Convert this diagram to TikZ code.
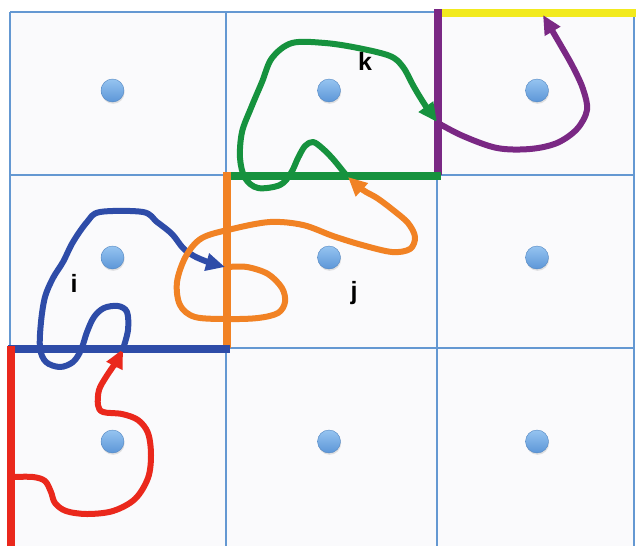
\documentclass[tikz,border=0pt]{standalone}
\usepackage{fontspec}
\setsansfont{Liberation Sans}
\usetikzlibrary{arrows.meta,shadows}
\definecolor{gridblue}{RGB}{100,152,210}
\definecolor{cellbg}{RGB}{250,250,252}
\definecolor{cred}{RGB}{234,40,28}
\definecolor{cblue}{RGB}{46,76,168}
\definecolor{corange}{RGB}{241,130,36}
\definecolor{cgreen}{RGB}{22,146,62}
\definecolor{cpurple}{RGB}{122,40,132}
\definecolor{cyellow}{RGB}{242,234,30}
\definecolor{dottop}{RGB}{150,196,240}
\definecolor{dotbot}{RGB}{92,150,216}
\begin{document}
\begin{tikzpicture}[x=1pt,y=-1pt,
  gridline/.style={draw=gridblue,line width=1.8pt},
  edgeline/.style={line width=8pt},
  curveline/.style={line width=6pt,line cap=round,line join=round,
    -{Triangle[length=19pt,width=17pt]}},
  dot/.style={circle,minimum size=23pt,inner sep=0pt,
    top color=dottop,bottom color=dotbot,draw=dotbot!90!black,line width=0.4pt,
    drop shadow={shadow xshift=0.6pt,shadow yshift=-1.8pt,opacity=0.22}},
  lab/.style={font=\sffamily\bfseries\fontsize{25}{28}\selectfont,text=black,
    inner sep=0pt,anchor=base}]
\useasboundingbox (0,0) rectangle (636,546);
\fill[white] (0,0) rectangle (636,546);
\fill[cellbg] (10,12) rectangle (634,546);
% grid
\foreach \x in {10,226,437,634} \draw[gridline] (\x,12) -- (\x,546);
\foreach \y in {12,175,348} \draw[gridline] (10,\y) -- (634,\y);
% dots
\foreach \c/\x in {1/112.5,2/329,3/537}{
  \foreach \r/\y in {1/90.5,2/257.5,3/441.5}{
    \node[dot] (d\c\r) at (\x,\y) {};
  }
}
% heavy cell edges
\coordinate (yA) at (437,12.5); \coordinate (yB) at (636,12.5);
\coordinate (pA) at (438,9);    \coordinate (pB) at (438,175);
\coordinate (gA) at (226,175.5);\coordinate (gB) at (441,175.5);
\coordinate (oA) at (227,172);  \coordinate (oB) at (227,348);
\coordinate (bA) at (8,349);    \coordinate (bB) at (230,349);
\coordinate (rA) at (11,346);   \coordinate (rB) at (11,546);
\draw[edgeline,cyellow] (yA) -- (yB);
\draw[edgeline,cpurple] (pA) -- (pB);
\draw[edgeline,cgreen] (gA) -- (gB);
\draw[edgeline,corange] (oA) -- (oB);
\draw[edgeline,cblue] (bA) -- (bB);
\draw[edgeline,cred] (rA) -- (rB);
% curve end points
\coordinate (r0) at (12,477);
\coordinate (r1) at (123,349);
\coordinate (b1) at (225,267);
\coordinate (o1) at (348,177);
\coordinate (g1) at (437,122);
\coordinate (p1) at (543,15);
% curves
\draw[curveline,cred] plot[smooth,tension=0.55] coordinates {(r0) (33,477) (45,481) (51,492) (55,503) (66,511) (87,514) (113,511) (135,499) (148,478) (151,455) (148,433) (138,420) (122,414) (103,412) (98,405) (99,390) (106,377) (116,362) (r1)};
\draw[curveline,cblue] plot[smooth,tension=0.55] coordinates {(r1) (128,330) (127,312) (118,306) (104,308) (94,317) (87,332) (81,350) (73,362) (60,367) (46,362) (40,348) (41,322) (45,297) (53,278) (63,262) (73,242) (87,222) (100,212) (143,212) (157,222) (172,234) (183,248) (194,256) (208,262) (b1)};
\draw[curveline,corange] plot[smooth,tension=0.55] coordinates {(228,267) (247,267) (268,274) (282,288) (285,302) (278,313) (258,318) (228,319) (195,317) (180,305) (177,282) (186,256) (202,238) (232,229) (270,222) (303,225) (333,236) (362,245) (392,252) (410,249) (415,237) (408,223) (393,210) (377,198) (363,190) (o1)};
\draw[curveline,cgreen] plot[smooth,tension=0.55] coordinates {(346,175) (333,159) (322,148) (313,142) (305,146) (298,158) (291,173) (280,185) (258,188) (245,178) (240,158) (242,132) (251,108) (262,82) (272,58) (292,43) (325,43) (358,48) (390,56) (403,67) (414,87) (425,105) (g1)};
\draw[curveline,cpurple] plot[smooth,tension=0.55] coordinates {(438,123) (463,136) (497,148) (530,149) (557,143) (577,129) (587,110) (583,89) (573,67) (560,44) (p1)};
% labels
\node[lab] (li) at (74,292) {i};
\node[lab] (lj) at (354,299) {j};
\node[lab] (lk) at (365,70) {k};
\end{tikzpicture}
\end{document}
